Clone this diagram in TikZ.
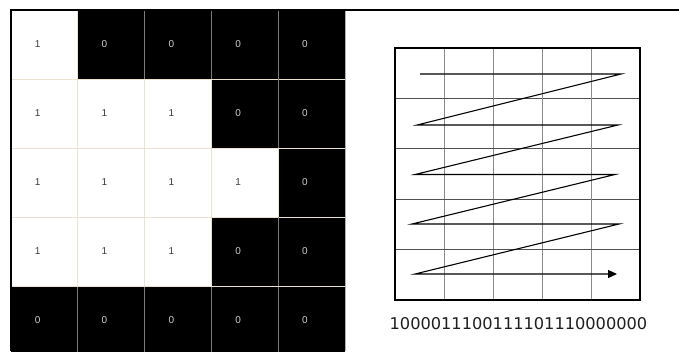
\documentclass[tikz,border=0pt]{standalone}
\usepackage{fontspec}
\setmainfont{DejaVu Sans}
\newfontfamily\cellfont{Liberation Sans}
\usetikzlibrary{arrows.meta}
\definecolor{beige}{HTML}{EAE3D2}
\definecolor{cellgray}{HTML}{7A7A7A}
\definecolor{vgrid}{HTML}{8A8A8A}
\definecolor{hgrid}{HTML}{505050}
\definecolor{onetext}{HTML}{3C3C3C}
\definecolor{zerotext}{HTML}{CFCFCF}
\begin{document}
\begin{tikzpicture}[x=1pt,y=-1pt,
  onelabel/.style={font=\cellfont\fontsize{10}{11}\selectfont,text=onetext,inner sep=0pt},
  zerolabel/.style={font=\cellfont\fontsize{10}{11}\selectfont,text=zerotext,inner sep=0pt},
  cellline/.style={draw=beige,line width=1pt},
  darkcellline/.style={draw=cellgray,line width=1pt},
  frame/.style={draw=black,line width=1.6pt},
  outerbox/.style={draw=black,line width=1.4pt},
  vline/.style={draw=vgrid,line width=1pt},
  hline/.style={draw=hgrid,line width=0.9pt},
  zigzag/.style={draw=black,line width=1.1pt,line join=miter}]
\useasboundingbox (0,0) rectangle (679,351);
\fill[white] (0,0) rectangle (679,351);
% black cells
\foreach \c/\r in {2/1,3/1,4/1,5/1,4/2,5/2,5/3,4/4,5/4,1/5,2/5,3/5,4/5,5/5}{
  \fill[black] ({11+(\c-1)*66.8},{10+(\r-1)*69}) rectangle ++(66.8,69);
}
% grid lines
\foreach \k in {1,2,3,4}{
  \draw[cellline] (11,{10+\k*69}) -- (345,{10+\k*69});
  \draw[cellline] ({11+\k*66.8},10) -- ({11+\k*66.8},351);
}
\foreach \c/\r in {2/1,3/1,4/1,4/2,4/4,1/5,2/5,3/5,4/5}{
  \draw[darkcellline] ({11+\c*66.8},{10+(\r-1)*69}) -- ({11+\c*66.8},{10+\r*69});
}
\draw[cellline] (11,286) -- (345,286);
\draw[draw=cellgray!60,line width=0.8pt] (345.5,10) -- (345.5,351);
% labels
\foreach \c/\r in {1/1,1/2,2/2,3/2,1/3,2/3,3/3,4/3,1/4,2/4,3/4}{
  \node[onelabel] (v\c\r) at ({37.7+(\c-1)*66.8},{44.5+(\r-1)*69}) {1};
}
\foreach \c/\r in {2/1,3/1,4/1,5/1,4/2,5/2,5/3,4/4,5/4,1/5,2/5,3/5,4/5,5/5}{
  \node[zerolabel] (v\c\r) at ({37.7+(\c-1)*66.8},{44.5+(\r-1)*69}) {0};
}
% borders
\draw[frame] (11,10) -- (11,351);
\draw[frame] (10,10) -- (679,10);
% right grid
\foreach \k in {1,2,3,4}{
  \draw[vline] ({395+\k*49},48) -- ({395+\k*49},300);
  \draw[hline] (395,{48+\k*50.4}) -- (640,{48+\k*50.4});
}
\draw[outerbox] (395,48) rectangle (640,300);
% zigzag path
\coordinate (p1) at (420,74);
\coordinate (p2) at (621,74);
\coordinate (p3) at (417,125);
\coordinate (p4) at (618,125);
\coordinate (p5) at (415,174.5);
\coordinate (p6) at (615,174.5);
\coordinate (p7) at (412,224);
\coordinate (p8) at (619,224);
\coordinate (p9) at (415,274);
\coordinate (p10) at (617,274);
\draw[zigzag,-{Triangle[length=9pt,width=8pt]}] (p1) -- (p2) -- (p3) -- (p4) -- (p5) -- (p6) -- (p7) -- (p8) -- (p9) -- (p10);
\node[font=\fontsize{16.2}{18}\selectfont,text=black!88,inner sep=0pt,anchor=base] (code) at (518.5,329) {1000011100111101110000000};
\end{tikzpicture}
\end{document}
